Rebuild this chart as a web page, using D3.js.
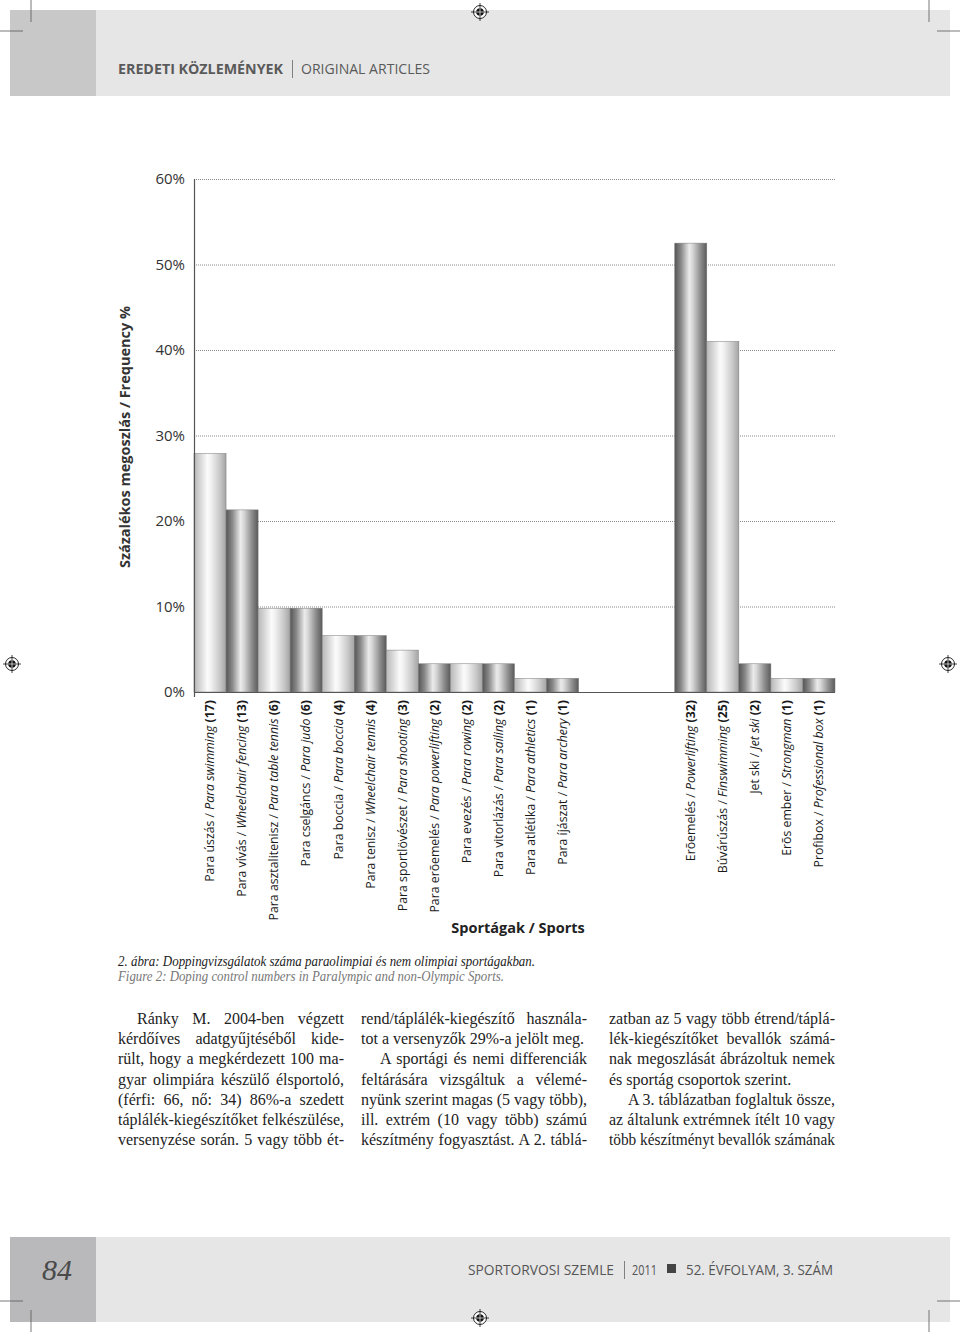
<!DOCTYPE html>
<html>
<head>
<meta charset="utf-8">
<script src="https://cdn.jsdelivr.net/npm/d3@7/dist/d3.min.js"></script>
<style>
  html, body { margin: 0; padding: 0; background: #fff; }
  svg { display: block; }
</style>
</head>
<body>
<svg id="page" width="960" height="1332"></svg>
<script>
// ---------- DATA ----------
const sportsHu = ["Para úszás","Para vívás","Para asztalitenisz","Para cselgáncs","Para boccia","Para tenisz","Para sportlövészet","Para erõemelés","Para evezés","Para vitorlázás","Para atlétika","Para íjászat","","","","Erõemelés","Búvárúszás","Jet ski","Erõs ember","Profibox"];
const sportsEn = ["Para swimming","Wheelchair fencing","Para table tennis","Para judo","Para boccia","Wheelchair tennis","Para shooting","Para powerlifting","Para rowing","Para sailing","Para athletics","Para archery","","","","Powerlifting","Finswimming","Jet ski","Strongman","Professional box"];
const counts = [17,13,6,6,4,4,3,2,2,2,1,1,null,null,null,32,25,2,1,1];
const percents = [27.9,21.3,9.8,9.8,6.6,6.6,4.9,3.3,3.3,3.3,1.6,1.6,null,null,null,52.5,41.0,3.3,1.6,1.6];
const yTicks = [0,10,20,30,40,50,60];
const yTitle = "Százalékos megoszlás / Frequency %";
const xTitle = "Sportágak / Sports";

(function(){
// ---------- PAGE ----------
const svg = d3.select("#page");
const sans = "'Open Sans', 'Noto Sans', sans-serif";
const serif = "'Liberation Serif', 'DejaVu Serif', serif";

// header band
svg.append("rect").attr("x",10).attr("y",10).attr("width",940).attr("height",86).attr("fill","#e6e6e6");
svg.append("rect").attr("x",10).attr("y",10).attr("width",86).attr("height",86).attr("fill","#c8c8c9");
svg.append("text").attr("x",118).attr("y",74).attr("font-family",sans).attr("font-size",15).attr("font-weight","bold")
  .attr("fill","#5a5a5a").attr("textLength",165).attr("lengthAdjust","spacingAndGlyphs").text("EREDETI KÖZLEMÉNYEK");
svg.append("line").attr("x1",292.5).attr("x2",292.5).attr("y1",60).attr("y2",78).attr("stroke","#666").attr("stroke-width",0.8);
svg.append("text").attr("x",301).attr("y",74).attr("font-family",sans).attr("font-size",15)
  .attr("fill","#5a5a5a").attr("textLength",129).attr("lengthAdjust","spacingAndGlyphs").text("ORIGINAL ARTICLES");

// footer band
svg.append("rect").attr("x",10).attr("y",1237).attr("width",940).attr("height",85).attr("fill","#e6e6e6");
svg.append("rect").attr("x",10).attr("y",1237).attr("width",86).attr("height",85).attr("fill","#b9b9bb");
svg.append("text").attr("x",57).attr("y",1280).attr("text-anchor","middle").attr("font-family",serif)
  .attr("font-style","italic").attr("font-size",30).attr("fill","#4a4a4a").text("84");
const fy = 1275;
svg.append("text").attr("x",468).attr("y",fy).attr("font-family",sans).attr("font-size",15).attr("fill","#555")
  .attr("textLength",146).attr("lengthAdjust","spacingAndGlyphs").text("SPORTORVOSI SZEMLE");
svg.append("line").attr("x1",624.5).attr("x2",624.5).attr("y1",1261).attr("y2",1279).attr("stroke","#666").attr("stroke-width",0.8);
svg.append("text").attr("x",632).attr("y",fy).attr("font-family",sans).attr("font-size",15).attr("fill","#555")
  .attr("textLength",25).attr("lengthAdjust","spacingAndGlyphs").text("2011");
svg.append("rect").attr("x",667).attr("y",1264).attr("width",9).attr("height",9).attr("fill","#444");
svg.append("text").attr("x",686).attr("y",fy).attr("font-family",sans).attr("font-size",15).attr("fill","#555")
  .attr("textLength",147).attr("lengthAdjust","spacingAndGlyphs").text("52. ÉVFOLYAM, 3. SZÁM");

// crop marks
const cm = svg.append("g").attr("stroke","#555").attr("stroke-width",0.8);
[[31,0,31,22],[0,31,23,31],[929,0,929,22],[937,31,960,31],
 [31,1310,31,1332],[0,1301,23,1301],[929,1310,929,1332],[937,1301,960,1301]]
 .forEach(l=>cm.append("line").attr("x1",l[0]).attr("y1",l[1]).attr("x2",l[2]).attr("y2",l[3]));
// registration targets
function target(x,y){
  const g = svg.append("g").attr("transform",`translate(${x},${y})`);
  g.append("circle").attr("r",6.5).attr("fill","#fff").attr("stroke","#111").attr("stroke-width",0.9);
  g.append("line").attr("x1",-9).attr("x2",9).attr("stroke","#111").attr("stroke-width",0.8);
  g.append("line").attr("y1",-9).attr("y2",9).attr("stroke","#111").attr("stroke-width",0.8);
  g.append("circle").attr("r",3.8).attr("fill","#111");
  g.append("line").attr("x1",-3.8).attr("x2",3.8).attr("stroke","#fff").attr("stroke-width",0.7);
  g.append("line").attr("y1",-3.8).attr("y2",3.8).attr("stroke","#fff").attr("stroke-width",0.7);
}
target(480,12); target(480,1318); target(12,664); target(948,664);

// ---------- CHART ----------
const pLeft = 194, pRight = 835, pTop = 179, pBottom = 692;
const keys = percents.map((d,i)=>String(i));
const x = d3.scaleBand().domain(keys).range([pLeft,pRight]).padding(0);
const y = d3.scaleLinear().domain([0,60]).range([pBottom,pTop]);

const defs = svg.append("defs");
const gl = defs.append("linearGradient").attr("id","gLight");
[[0,"#b8b8b8"],[0.18,"#d4d4d4"],[0.42,"#fbfbfb"],[0.52,"#f2f2f2"],[0.78,"#cccccc"],[1,"#a4a4a4"]]
  .forEach(s=>gl.append("stop").attr("offset",s[0]).attr("stop-color",s[1]));
const gd = defs.append("linearGradient").attr("id","gDark");
[[0,"#555555"],[0.2,"#8a8a8a"],[0.45,"#ebebeb"],[0.55,"#d8d8d8"],[0.8,"#8e8e8e"],[1,"#5a5a5a"]]
  .forEach(s=>gd.append("stop").attr("offset",s[0]).attr("stop-color",s[1]));

// grid lines
svg.append("g").selectAll("line").data(yTicks.filter(t=>t>0)).join("line")
  .attr("x1",pLeft).attr("x2",pRight).attr("y1",d=>y(d)+0.5).attr("y2",d=>y(d)+0.5)
  .attr("stroke","#8a8a8a").attr("stroke-width",1).attr("stroke-dasharray","1,1");

// bars
svg.append("g").selectAll("rect").data(percents.map((v,i)=>({v,i})).filter(d=>d.v!=null)).join("rect")
  .attr("x",d=>x(String(d.i))).attr("width",x.bandwidth())
  .attr("y",d=>y(d.v)).attr("height",d=>y(0)-y(d.v))
  .attr("fill",d=>d.i%2===0?"url(#gLight)":"url(#gDark)")
  .attr("stroke","#7a7a7a").attr("stroke-width",0.5);

// y axis
const yAxis = d3.axisLeft(y).tickValues(yTicks).tickSize(0).tickPadding(9).tickFormat(d=>d+"%");
const ya = svg.append("g").attr("transform",`translate(${pLeft},0)`).call(yAxis);
ya.select(".domain").remove();
ya.selectAll("text").attr("font-family",sans).attr("font-size",15).attr("fill","#333");
svg.append("line").attr("x1",pLeft+0.5).attr("x2",pLeft+0.5).attr("y1",pTop).attr("y2",pBottom+5)
  .attr("stroke","#555").attr("stroke-width",1.2);
// x baseline
svg.append("line").attr("x1",pLeft).attr("x2",pRight).attr("y1",pBottom+0.5).attr("y2",pBottom+0.5)
  .attr("stroke","#555").attr("stroke-width",1.2);

// x labels
const lab = svg.append("g").selectAll("text").data(percents.map((v,i)=>i).filter(i=>counts[i]!=null)).join("text")
  .attr("transform",i=>`translate(${x(String(i))+x.bandwidth()/2},700) rotate(-90)`)
  .attr("text-anchor","end").attr("dy","0.35em")
  .attr("font-family",sans).attr("font-size",12.3).attr("fill","#1a1a1a");
lab.append("tspan").text(i=>sportsHu[i]+" / ");
lab.append("tspan").attr("font-style","italic").text(i=>sportsEn[i]);
lab.append("tspan").attr("font-weight","bold").text(i=>" ("+counts[i]+")");

// axis titles
svg.append("text").attr("transform","translate(130,437) rotate(-90)").attr("text-anchor","middle")
  .attr("font-family",sans).attr("font-weight","bold").attr("font-size",14.5).attr("fill","#333").text(yTitle);
svg.append("text").attr("x",518).attr("y",933).attr("text-anchor","middle")
  .attr("font-family",sans).attr("font-weight","bold").attr("font-size",14.5).attr("fill","#222").text(xTitle);

// ---------- CAPTION ----------
svg.append("text").attr("x",118).attr("y",966).attr("font-family",serif).attr("font-style","italic")
  .attr("font-size",14).attr("fill","#222").attr("textLength",417).attr("lengthAdjust","spacingAndGlyphs")
  .text("2. ábra: Doppingvizsgálatok száma paraolimpiai és nem olimpiai sportágakban.");
svg.append("text").attr("x",118).attr("y",981).attr("font-family",serif).attr("font-style","italic")
  .attr("font-size",14).attr("fill","#777").attr("textLength",386).attr("lengthAdjust","spacingAndGlyphs")
  .text("Figure 2: Doping control numbers in Paralympic and non-Olympic Sports.");

// ---------- BODY TEXT ----------
const colX = [118, 361, 609], colW = 226, indent = 19;
const body = [
  [0,"Ránky M. 2004-ben végzett",true,true],
  [0,"kérdőíves adatgyűjtéséből kide-",false,true],
  [0,"rült, hogy a megkérdezett 100 ma-",false,true],
  [0,"gyar olimpiára készülő élsportoló,",false,true],
  [0,"(férfi: 66, nő: 34) 86%-a szedett",false,true],
  [0,"táplálék-kiegészítőket felkészülése,",false,true],
  [0,"versenyzése során. 5 vagy több ét-",false,true],
  [1,"rend/táplálék-kiegészítő használa-",false,true],
  [1,"tot a versenyzők 29%-a jelölt meg.",false,false],
  [1,"A sportági és nemi differenciák",true,true],
  [1,"feltárására vizsgáltuk a vélemé-",false,true],
  [1,"nyünk szerint magas (5 vagy több),",false,true],
  [1,"ill. extrém (10 vagy több) számú",false,true],
  [1,"készítmény fogyasztást. A 2. táblá-",false,true],
  [2,"zatban az 5 vagy több étrend/táplá-",false,true],
  [2,"lék-kiegészítőket bevallók számá-",false,true],
  [2,"nak megoszlását ábrázoltuk nemek",false,true],
  [2,"és sportág csoportok szerint.",false,false],
  [2,"A 3. táblázatban foglaltuk össze,",true,true],
  [2,"az általunk extrémnek ítélt 10 vagy",false,true],
  [2,"több készítményt bevallók számának",false,true]
];
const rowIdx = [0,0,0];
body.forEach(b=>{
  const [c,t,ind,just] = b;
  const r = rowIdx[c]++;
  const x0 = colX[c] + (ind?indent:0);
  const tx = svg.append("text").attr("x",x0).attr("y",1024 + r*20.2)
    .attr("font-family",serif).attr("font-size",16).attr("fill","#222")
    .attr("word-spacing","0").text(t);
  if (just) {
    const target = colW-(ind?indent:0);
    const natural = tx.node().getComputedTextLength();
    const words = t.split(" ").length - 1;
    if (natural < target && words > 0) {
      tx.attr("word-spacing", (target-natural)/words);
    } else {
      tx.attr("textLength", target).attr("lengthAdjust","spacingAndGlyphs");
    }
  }
});
})();
</script>
</body>
</html>
